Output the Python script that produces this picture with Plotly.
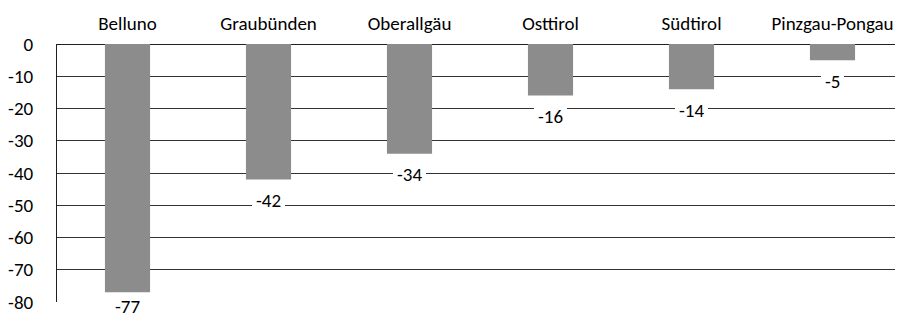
import plotly.graph_objects as go

categories = ["Belluno", "Graubünden", "Oberallgäu", "Osttirol", "Südtirol", "Pinzgau-Pongau"]
values = [-77, -42, -34, -16, -14, -5]
tick_vals = [0, -10, -20, -30, -40, -50, -60, -70, -80]

FONT = "Carlito, Calibri, Lato, sans-serif"
FS = 19

fig = go.Figure()
fig.add_trace(go.Bar(
    x=categories, y=values,
    marker=dict(color="#8c8c8c", line=dict(width=0)),
    width=0.32,
))

for c, v in zip(categories, values):
    low = v <= -70
    fig.add_annotation(
        x=c, y=v, text=str(v), showarrow=False,
        yanchor="middle", yshift=-14 if low else -21,
        bgcolor="white", font=dict(family=FONT, size=FS, color="black"),
        borderpad=0, borderwidth=1 if low else 4, bordercolor="white",
    )

# page body has an 8px default margin; compensate so the plot sits like the reference
fig.update_layout(
    width=895, height=309,
    margin=dict(l=44, r=0, t=36, b=15),
    plot_bgcolor="white", paper_bgcolor="white",
    showlegend=False,
    font=dict(family=FONT, size=FS, color="black"),
    xaxis=dict(
        side="top", showgrid=False, showline=False, ticks="",
        tickfont=dict(family=FONT, size=FS, color="black"),
        ticklabelstandoff=9,
    ),
    yaxis=dict(
        range=[-80, 0], tickvals=tick_vals, ticktext=[str(t) for t in tick_vals],
        showgrid=True, gridcolor="#333333", gridwidth=1,
        showline=True, linecolor="#202020", linewidth=1,
        zeroline=True, zerolinecolor="#202020", zerolinewidth=1,
        ticks="", ticklabelstandoff=19,
        tickfont=dict(family=FONT, size=FS, color="black"),
    ),
)

fig.write_html("out.html")
